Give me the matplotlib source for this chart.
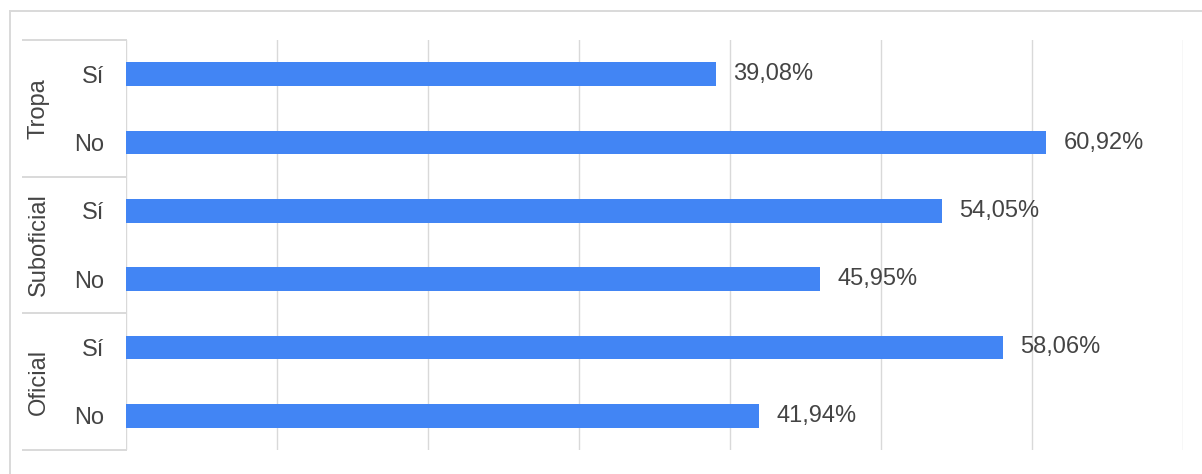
import matplotlib
matplotlib.use("Agg")
import matplotlib.pyplot as plt
from matplotlib.lines import Line2D

# Survey results by rank group
groups = ["Tropa", "Suboficial", "Oficial"]
answers = ["Sí", "No"]
tropa = [39.08, 60.92]
suboficial = [54.05, 45.95]
oficial = [58.06, 41.94]
x_ticks = [0, 10, 20, 30, 40, 50, 60, 70]

series = [tropa, suboficial, oficial]
labels = [a for _ in groups for a in answers]
values = [v for s in series for v in s]

plt.rcParams["font.family"] = ["Liberation Sans", "DejaVu Sans"]
BAR = "#4285f4"
GRID = "#d9d9d9"
TEXT = "#444444"
FS = 17

W, H = 1202, 474
fig = plt.figure(figsize=(W / 100, H / 100), dpi=100)
fig.patch.set_facecolor("white")

# outer frame (left and top edges visible)
fig.add_artist(Line2D([9.5 / W, 9.5 / W], [0, 1 - 10.5 / H], transform=fig.transFigure,
                      color="#d9d9d9", lw=1.4))
fig.add_artist(Line2D([9.5 / W, 1], [1 - 10.5 / H, 1 - 10.5 / H], transform=fig.transFigure,
                      color="#d9d9d9", lw=1.4))

left, right, top, bottom = 126, 1183, 40, 450
ax = fig.add_axes([left / W, (H - bottom) / H, (right - left) / W, (bottom - top) / H])

ypos = list(range(len(values)))
ax.barh(ypos, values, height=0.35, color=BAR, zorder=3)
for y, v in zip(ypos, values):
    ax.text(v + 1.15, y, f"{v:.2f}".replace(".", ",") + "%", va="center", ha="left",
            fontsize=FS, color=TEXT, zorder=4)

ax.set_xlim(x_ticks[0], x_ticks[-1])
ax.set_ylim(len(values) - 0.5, -0.5)
ax.set_xticks(x_ticks)
ax.xaxis.grid(True, color=GRID, lw=1.0, zorder=0)
ax.tick_params(axis="x", length=0, labelbottom=False)
ax.set_yticks(ypos)
ax.set_yticklabels(labels, fontsize=FS, color=TEXT)
ax.tick_params(axis="y", length=0, pad=15.5)
for s in ax.spines.values():
    s.set_visible(False)
ax.axvline(0, color=GRID, lw=1.4, zorder=2)

# group separators and rotated group labels in the left margin
tr = ax.get_yaxis_transform()
pw = right - left
x0 = (23 - left) / pw
for yb in [-0.5, 1.5, 3.5, 5.5]:
    ax.add_line(Line2D([x0, 0], [yb, yb], transform=tr, color=GRID, lw=1.4, clip_on=False))
for i, g in enumerate(groups):
    ax.text((39 - left) / pw, 2 * i + 0.5, g, transform=tr, rotation=90,
            ha="center", va="center", fontsize=FS, color=TEXT)

fig.savefig("out.png", dpi=100, facecolor="white")
